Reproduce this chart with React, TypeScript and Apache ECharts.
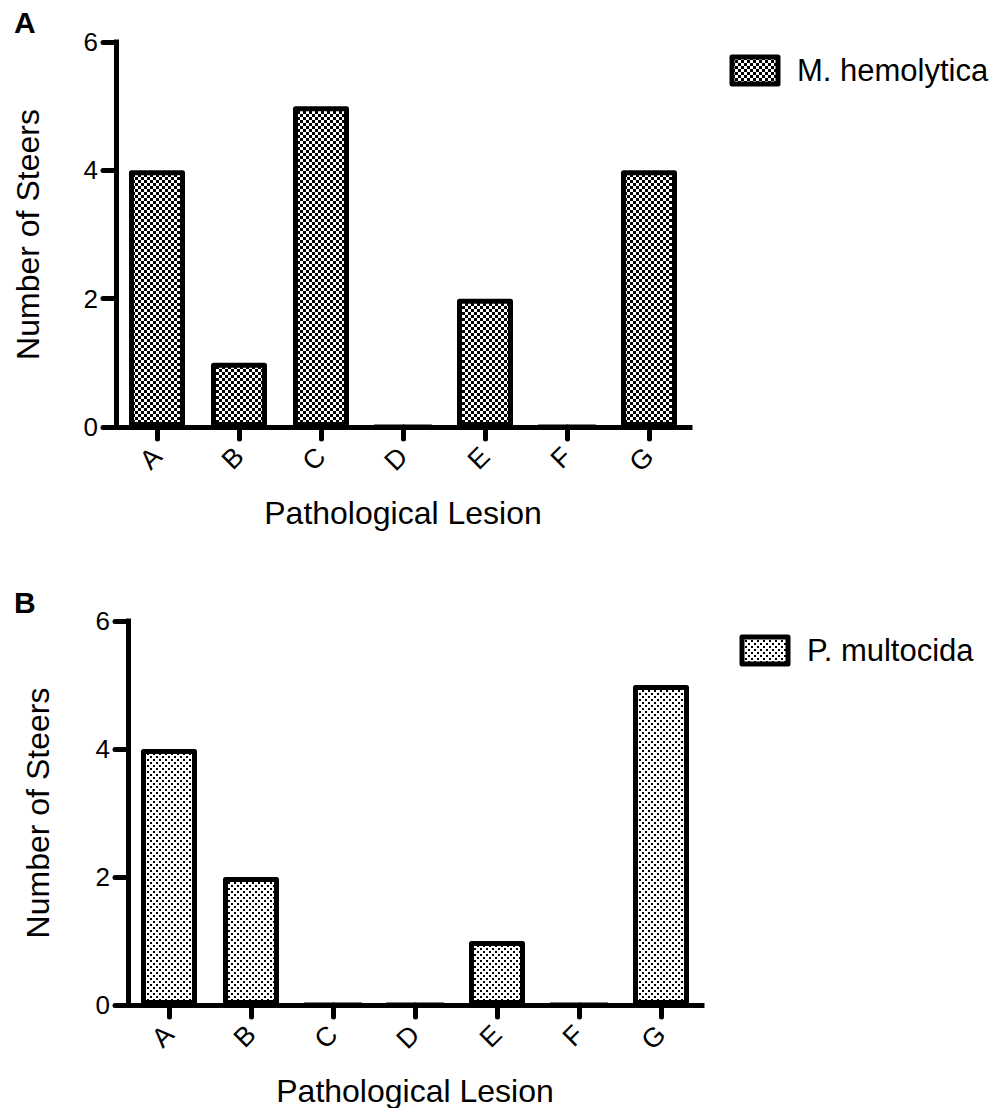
import React, { useEffect, useRef } from "react";
import * as echarts from "echarts";

const categories = ["A", "B", "C", "D", "E", "F", "G"];
const mHemolytica = [4, 1, 5, 0, 2, 0, 4];
const pMultocida = [4, 2, 0, 0, 1, 0, 5];
const yMin = 0;
const yMax = 6;
const yInterval = 2;
const seriesNames = ["M. hemolytica", "P. multocida"];
const panelLetters = ["A", "B"];
const xAxisTitle = "Pathological Lesion";
const yAxisTitle = "Number of Steers";

const FONT = "'Liberation Sans', Arial, Helvetica, sans-serif";

function makePattern(kind: "checker" | "dots") {
  const c = document.createElement("canvas");
  c.width = 6;
  c.height = 6;
  const ctx = c.getContext("2d")!;
  ctx.fillStyle = "#ffffff";
  ctx.fillRect(0, 0, 6, 6);
  ctx.fillStyle = "#000000";
  if (kind === "checker") {
    ctx.fillRect(0, 0, 3, 3);
    ctx.fillRect(3, 3, 3, 3);
  } else {
    ctx.fillRect(0, 0, 2, 2);
    ctx.fillRect(3, 3, 2, 2);
  }
  return {
    type: "pattern",
    image: c.toDataURL(),
    repeat: "repeat",
    imageWidth: 6,
    imageHeight: 6,
  } as any;
}

export default function App() {
  const ref = useRef<HTMLDivElement>(null);
  useEffect(() => {
    if (!ref.current) return;
    const chart = echarts.init(ref.current, undefined, { renderer: "svg" });
    const patterns = [makePattern("checker"), makePattern("dots")];
    const grids = [
      { left: 116, top: 42, width: 574, height: 385 },
      { left: 128, top: 621, width: 574, height: 384 },
    ];
    const legendPos = [
      { left: 729.5, top: 54.5 },
      { left: 739.5, top: 634.5 },
    ];
    const yNameGap = [72, 74];
    const seriesData = [mHemolytica, pMultocida];
    const letterPos = [
      { x: 14, y: 22 },
      { x: 14, y: 602 },
    ];

    const option: any = {
      animation: false,
      backgroundColor: "#ffffff",
      grid: grids,
      xAxis: grids.map((_, i) => ({
        type: "category",
        gridIndex: i,
        data: categories,
        axisLine: { show: true, lineStyle: { color: "#000", width: 5, cap: "square" } },
        axisTick: {
          show: true,
          alignWithLabel: true,
          length: 12,
          lineStyle: { color: "#000", width: 5, cap: "round" },
        },
        axisLabel: {
          rotate: 45,
          fontSize: 27,
          color: "#000",
          margin: 25,
          fontFamily: FONT,
        },
        splitLine: { show: false },
        name: xAxisTitle,
        nameLocation: "middle",
        nameGap: 70,
        nameTextStyle: { fontSize: 32, color: "#000", fontFamily: FONT },
      })),
      yAxis: grids.map((_, i) => ({
        type: "value",
        gridIndex: i,
        min: yMin,
        max: yMax,
        interval: yInterval,
        axisLine: { show: true, lineStyle: { color: "#000", width: 5, cap: "square" } },
        axisTick: {
          show: true,
          length: 13,
          lineStyle: { color: "#000", width: 5, cap: "round" },
        },
        axisLabel: { fontSize: 26, color: "#000", margin: 18, fontFamily: FONT },
        splitLine: { show: false },
        name: yAxisTitle,
        nameLocation: "middle",
        nameGap: yNameGap[i],
        nameTextStyle: { fontSize: 32, color: "#000", fontFamily: FONT },
      })),
      legend: grids.map((_, i) => ({
        data: [seriesNames[i]],
        left: legendPos[i].left,
        top: legendPos[i].top,
        padding: 0,
        icon: "rect",
        itemWidth: 46,
        itemHeight: 27,
        itemStyle: { borderWidth: 5, borderColor: "#000" },
        textStyle: { fontSize: 31, color: "#000", fontFamily: FONT, padding: [0, 0, 0, 14] },
        selectedMode: false,
      })),
      series: seriesData.map((d, i) => ({
        type: "bar",
        name: seriesNames[i],
        xAxisIndex: i,
        yAxisIndex: i,
        data: d,
        barWidth: 56,
        itemStyle: {
          color: patterns[i],
          borderColor: "#000",
          borderWidth: 5,
          borderJoin: "round",
        },
      })),
      graphic: panelLetters.map((t, i) => ({
        type: "text",
        x: letterPos[i].x,
        y: letterPos[i].y,
        style: {
          text: t,
          font: `bold 30px ${FONT}`,
          fill: "#000",
          verticalAlign: "middle",
        },
      })),
    };
    chart.setOption(option);
    return () => chart.dispose();
  }, []);
  return (
    <div
      ref={ref}
      style={{ position: "absolute", left: 0, top: 0, width: 1002, height: 1108 }}
    />
  );
}
